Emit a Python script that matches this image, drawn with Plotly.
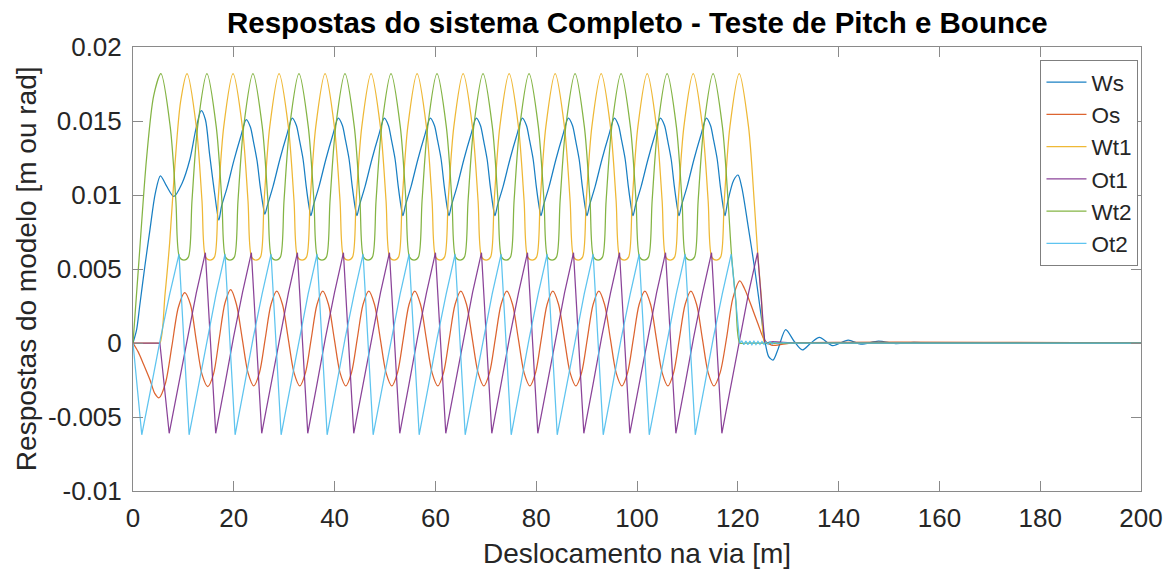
import plotly.graph_objects as go

# ---- data: displacement along the track [m] and model responses [m or rad] ----
ws_x = [0, 0.72, 1.33, 2.36, 3.38, 4.41, 5.44, 6.67, 8.10, 9.74, 11.28, 12.51, 13.54, 14.36, 15.18, 16.20, 17.03,
        17.54, 18.67, 20.00, 21.34, 22.47, 23.29, 23.90, 24.62, 25.23, 25.85, 26.16,
        26.67, 27.80, 29.13, 30.47, 31.60, 32.42, 33.03, 33.75, 34.36, 34.98, 35.29,
        35.80, 36.93, 38.26, 39.60, 40.73, 41.55, 42.16, 42.88, 43.49, 44.11, 44.42,
        44.93, 46.06, 47.39, 48.73, 49.86, 50.68, 51.29, 52.01, 52.62, 53.24, 53.55,
        54.06, 55.19, 56.52, 57.86, 58.99, 59.81, 60.42, 61.14, 61.75, 62.37, 62.68,
        63.19, 64.32, 65.65, 66.99, 68.12, 68.94, 69.55, 70.27, 70.88, 71.50, 71.81,
        72.32, 73.45, 74.78, 76.12, 77.25, 78.07, 78.68, 79.40, 80.01, 80.63, 80.94,
        81.45, 82.58, 83.91, 85.25, 86.38, 87.20, 87.81, 88.53, 89.14, 89.76, 90.07,
        90.58, 91.71, 93.04, 94.38, 95.51, 96.33, 96.94, 97.66, 98.27, 98.89, 99.20,
        99.71, 100.84, 102.17, 103.51, 104.64, 105.46, 106.07, 106.79, 107.40, 108.02, 108.33,
        108.84, 109.97, 111.30, 112.64, 113.77, 114.59, 115.20, 115.92, 116.53, 117.15, 117.46,
        117.97, 119.18, 120.06, 120.80, 122.00, 123.40, 124.40, 125.30, 126.10, 127.00, 128.00, 129.50,
        131.20, 132.80, 134.50, 136.20, 138.80, 141.90, 144.40, 147.90, 151.30, 154.90, 158.00, 200]
ws_y = [0, 0.0009, 0.0025, 0.0052, 0.0077, 0.0101, 0.0113, 0.0106, 0.0099, 0.0108, 0.0124, 0.0145, 0.0157, 0.0151, 0.0128, 0.0101, 0.0083,
        0.0092, 0.0105, 0.0123, 0.0139, 0.0151, 0.0146, 0.0136, 0.0123, 0.0106, 0.0092, 0.0087,
        0.0093, 0.0106, 0.0124, 0.0140, 0.0152, 0.0147, 0.0137, 0.0124, 0.0106, 0.0091, 0.0086,
        0.0093, 0.0106, 0.0124, 0.0140, 0.0152, 0.0147, 0.0137, 0.0124, 0.0106, 0.0091, 0.0086,
        0.0093, 0.0106, 0.0124, 0.0140, 0.0152, 0.0147, 0.0137, 0.0124, 0.0106, 0.0091, 0.0086,
        0.0093, 0.0106, 0.0124, 0.0140, 0.0152, 0.0147, 0.0137, 0.0124, 0.0106, 0.0091, 0.0086,
        0.0093, 0.0106, 0.0124, 0.0140, 0.0152, 0.0147, 0.0137, 0.0124, 0.0106, 0.0091, 0.0086,
        0.0093, 0.0106, 0.0124, 0.0140, 0.0152, 0.0147, 0.0137, 0.0124, 0.0106, 0.0091, 0.0086,
        0.0093, 0.0106, 0.0124, 0.0140, 0.0152, 0.0147, 0.0137, 0.0124, 0.0106, 0.0091, 0.0086,
        0.0093, 0.0106, 0.0124, 0.0140, 0.0152, 0.0147, 0.0137, 0.0124, 0.0106, 0.0091, 0.0086,
        0.0093, 0.0106, 0.0124, 0.0140, 0.0152, 0.0147, 0.0137, 0.0124, 0.0106, 0.0091, 0.0086,
        0.0093, 0.0106, 0.0124, 0.0140, 0.0152, 0.0147, 0.0137, 0.0124, 0.0106, 0.0091, 0.0086,
        0.0095, 0.0110, 0.01135, 0.0105, 0.0080, 0.0049, 0.0024, 0.0003, -0.0009, -0.00115, -0.0004, 0.0009,
        0.0001, -0.00047, 0.0000, 0.00038, -0.00018, 0.0002, -0.00008, 0.00012, -0.00004, 0.00004, 0, 0]

os_x = [0, 1.03, 2.05, 3.38, 4.31, 5.18, 6.45, 7.72, 8.99, 10.26,
        11.40, 12.54, 13.68, 14.83, 15.97, 17.11, 18.25, 19.39,
        20.53, 21.67, 22.81, 23.96, 25.10, 26.24, 27.38, 28.52,
        29.66, 30.80, 31.94, 33.09, 34.23, 35.37, 36.51, 37.65,
        38.79, 39.93, 41.07, 42.22, 43.36, 44.50, 45.64, 46.78,
        47.92, 49.06, 50.20, 51.35, 52.49, 53.63, 54.77, 55.91,
        57.05, 58.19, 59.33, 60.48, 61.62, 62.76, 63.90, 65.04,
        66.18, 67.32, 68.46, 69.61, 70.75, 71.89, 73.03, 74.17,
        75.31, 76.45, 77.59, 78.74, 79.88, 81.02, 82.16, 83.30,
        84.44, 85.58, 86.72, 87.87, 89.01, 90.15, 91.29, 92.43,
        93.57, 94.71, 95.85, 97.00, 98.14, 99.28, 100.42, 101.56,
        102.70, 103.84, 104.98, 106.13, 107.27, 108.41, 109.55, 110.69,
        111.83, 112.97, 114.11, 115.26, 116.50, 117.80, 119.00, 120.40,
        121.30, 122.25, 124.00, 125.30, 126.70, 128.70, 131.30, 200]
os_y = [0, -0.0006, -0.0014, -0.0025, -0.0034, -0.0037, -0.0027, -0.0002, 0.0024, 0.0034,
        0.0026, 0.0002, -0.0021, -0.00295, -0.0021, 0.0003, 0.0027, 0.0036,
        0.0026, 0.0003, -0.0020, -0.0029, -0.0020, 0.0003, 0.0026, 0.0035,
        0.0026, 0.0003, -0.0020, -0.0029, -0.0020, 0.0003, 0.0026, 0.0035,
        0.0026, 0.0003, -0.0020, -0.0029, -0.0020, 0.0003, 0.0026, 0.0035,
        0.0026, 0.0003, -0.0020, -0.0029, -0.0020, 0.0003, 0.0026, 0.0035,
        0.0026, 0.0003, -0.0020, -0.0029, -0.0020, 0.0003, 0.0026, 0.0035,
        0.0026, 0.0003, -0.0020, -0.0029, -0.0020, 0.0003, 0.0026, 0.0035,
        0.0026, 0.0003, -0.0020, -0.0029, -0.0020, 0.0003, 0.0026, 0.0035,
        0.0026, 0.0003, -0.0020, -0.0029, -0.0020, 0.0003, 0.0026, 0.0035,
        0.0026, 0.0003, -0.0020, -0.0029, -0.0020, 0.0003, 0.0026, 0.0035,
        0.0026, 0.0003, -0.0020, -0.0029, -0.0020, 0.0003, 0.0026, 0.0035,
        0.0026, 0.0003, -0.0020, -0.0029, -0.0020, 0.0004, 0.0030, 0.0042,
        0.0037, 0.0029, 0.0013, 0.0002, -0.00015, -0.0001, 0, 0]

wt1_x = [0, 4.60, 5.33, 6.36, 7.28, 8.31, 9.44, 10.72, 12.57, 13.69, 14.41, 15.29,
         16.16, 16.88, 18.00, 19.85, 21.70, 22.82, 23.54, 24.42,
         25.29, 26.01, 27.13, 28.98, 30.83, 31.95, 32.67, 33.55,
         34.42, 35.14, 36.26, 38.11, 39.96, 41.08, 41.80, 42.68,
         43.55, 44.27, 45.39, 47.24, 49.09, 50.21, 50.93, 51.81,
         52.68, 53.40, 54.52, 56.37, 58.22, 59.34, 60.06, 60.94,
         61.81, 62.53, 63.65, 65.50, 67.35, 68.47, 69.19, 70.07,
         70.94, 71.66, 72.78, 74.63, 76.48, 77.60, 78.32, 79.20,
         80.07, 80.79, 81.91, 83.76, 85.61, 86.73, 87.45, 88.33,
         89.20, 89.92, 91.04, 92.89, 94.74, 95.86, 96.58, 97.46,
         98.33, 99.05, 100.17, 102.02, 103.87, 104.99, 105.71, 106.59,
         107.46, 108.18, 109.30, 111.15, 113.00, 114.12, 114.84, 115.72,
         116.59, 117.31, 118.43, 120.28, 122.13, 123.25, 124.00, 124.70, 125.35, 126.40, 200]
wt1_y = [0, 0, 0, 0.0033, 0.0068, 0.0120, 0.0163, 0.0182, 0.0146, 0.0096, 0.0058, 0.0056,
         0.0058, 0.0096, 0.0146, 0.0182, 0.0146, 0.0096, 0.0058, 0.0056,
         0.0058, 0.0096, 0.0146, 0.0182, 0.0146, 0.0096, 0.0058, 0.0056,
         0.0058, 0.0096, 0.0146, 0.0182, 0.0146, 0.0096, 0.0058, 0.0056,
         0.0058, 0.0096, 0.0146, 0.0182, 0.0146, 0.0096, 0.0058, 0.0056,
         0.0058, 0.0096, 0.0146, 0.0182, 0.0146, 0.0096, 0.0058, 0.0056,
         0.0058, 0.0096, 0.0146, 0.0182, 0.0146, 0.0096, 0.0058, 0.0056,
         0.0058, 0.0096, 0.0146, 0.0182, 0.0146, 0.0096, 0.0058, 0.0056,
         0.0058, 0.0096, 0.0146, 0.0182, 0.0146, 0.0096, 0.0058, 0.0056,
         0.0058, 0.0096, 0.0146, 0.0182, 0.0146, 0.0096, 0.0058, 0.0056,
         0.0058, 0.0096, 0.0146, 0.0182, 0.0146, 0.0096, 0.0058, 0.0056,
         0.0058, 0.0096, 0.0146, 0.0182, 0.0146, 0.0096, 0.0058, 0.0056,
         0.0058, 0.0096, 0.0146, 0.0182, 0.0146, 0.0096, 0.0058, 0.0030, 0, 0, 0]

ot1_x = [0, 5.33, 7.18, 8.98, 10.77, 12.57, 14.36,
         16.41, 18.18, 19.95, 21.72, 23.49,
         25.54, 27.31, 29.08, 30.85, 32.62,
         34.67, 36.44, 38.21, 39.98, 41.75,
         43.80, 45.57, 47.34, 49.11, 50.88,
         52.93, 54.70, 56.47, 58.24, 60.01,
         62.06, 63.83, 65.60, 67.37, 69.14,
         71.19, 72.96, 74.73, 76.50, 78.27,
         80.32, 82.09, 83.86, 85.63, 87.40,
         89.45, 91.22, 92.99, 94.76, 96.53,
         98.58, 100.35, 102.12, 103.89, 105.66,
         107.71, 109.48, 111.25, 113.02, 114.79,
         116.84, 118.61, 120.38, 122.15, 123.92,
         125.35, 127.00, 129.00, 131.30, 200]
ot1_y = [0, 0, -0.0061, -0.0029, 0.0004, 0.0034, 0.0061,
         -0.0061, -0.0029, 0.0004, 0.0034, 0.0061,
         -0.0061, -0.0029, 0.0004, 0.0034, 0.0061,
         -0.0061, -0.0029, 0.0004, 0.0034, 0.0061,
         -0.0061, -0.0029, 0.0004, 0.0034, 0.0061,
         -0.0061, -0.0029, 0.0004, 0.0034, 0.0061,
         -0.0061, -0.0029, 0.0004, 0.0034, 0.0061,
         -0.0061, -0.0029, 0.0004, 0.0034, 0.0061,
         -0.0061, -0.0029, 0.0004, 0.0034, 0.0061,
         -0.0061, -0.0029, 0.0004, 0.0034, 0.0061,
         -0.0061, -0.0029, 0.0004, 0.0034, 0.0061,
         -0.0061, -0.0029, 0.0004, 0.0034, 0.0061,
         -0.0061, -0.0029, 0.0004, 0.0034, 0.0061,
         0, 0.0001, 0.00005, 0, 0]

wt2_x = [0, 1.23, 2.67, 4.10, 5.54, 7.39, 8.51, 9.23, 10.11,
         10.98, 11.70, 12.82, 14.67, 16.52, 17.64, 18.36, 19.24,
         20.11, 20.83, 21.95, 23.80, 25.65, 26.77, 27.49, 28.37,
         29.24, 29.96, 31.08, 32.93, 34.78, 35.90, 36.62, 37.50,
         38.37, 39.09, 40.21, 42.06, 43.91, 45.03, 45.75, 46.63,
         47.50, 48.22, 49.34, 51.19, 53.04, 54.16, 54.88, 55.76,
         56.63, 57.35, 58.47, 60.32, 62.17, 63.29, 64.01, 64.89,
         65.76, 66.48, 67.60, 69.45, 71.30, 72.42, 73.14, 74.02,
         74.89, 75.61, 76.73, 78.58, 80.43, 81.55, 82.27, 83.15,
         84.02, 84.74, 85.86, 87.71, 89.56, 90.68, 91.40, 92.28,
         93.15, 93.87, 94.99, 96.84, 98.69, 99.81, 100.53, 101.41,
         102.28, 103.00, 104.12, 105.97, 107.82, 108.94, 109.66, 110.54,
         111.41, 112.13, 113.25, 115.10, 116.95, 118.07, 118.79, 119.60, 120.40, 121.50, 200]
wt2_y = [0, 0.0058, 0.0124, 0.0167, 0.0182, 0.0146, 0.0096, 0.0058, 0.0056,
         0.0058, 0.0096, 0.0146, 0.0182, 0.0146, 0.0096, 0.0058, 0.0056,
         0.0058, 0.0096, 0.0146, 0.0182, 0.0146, 0.0096, 0.0058, 0.0056,
         0.0058, 0.0096, 0.0146, 0.0182, 0.0146, 0.0096, 0.0058, 0.0056,
         0.0058, 0.0096, 0.0146, 0.0182, 0.0146, 0.0096, 0.0058, 0.0056,
         0.0058, 0.0096, 0.0146, 0.0182, 0.0146, 0.0096, 0.0058, 0.0056,
         0.0058, 0.0096, 0.0146, 0.0182, 0.0146, 0.0096, 0.0058, 0.0056,
         0.0058, 0.0096, 0.0146, 0.0182, 0.0146, 0.0096, 0.0058, 0.0056,
         0.0058, 0.0096, 0.0146, 0.0182, 0.0146, 0.0096, 0.0058, 0.0056,
         0.0058, 0.0096, 0.0146, 0.0182, 0.0146, 0.0096, 0.0058, 0.0056,
         0.0058, 0.0096, 0.0146, 0.0182, 0.0146, 0.0096, 0.0058, 0.0056,
         0.0058, 0.0096, 0.0146, 0.0182, 0.0146, 0.0096, 0.0058, 0.0056,
         0.0058, 0.0096, 0.0146, 0.0182, 0.0146, 0.0096, 0.0058, 0.0029, 0, 0, 0]

ot2_x = [0, 1.74, 3.59, 5.44, 7.28, 9.13,
         11.13, 12.91, 14.69, 16.48, 18.26,
         20.26, 22.04, 23.82, 25.61, 27.39,
         29.39, 31.17, 32.95, 34.74, 36.52,
         38.52, 40.30, 42.08, 43.87, 45.65,
         47.65, 49.43, 51.21, 53.00, 54.78,
         56.78, 58.56, 60.34, 62.13, 63.91,
         65.91, 67.69, 69.47, 71.26, 73.04,
         75.04, 76.82, 78.60, 80.39, 82.17,
         84.17, 85.95, 87.73, 89.52, 91.30,
         93.30, 95.08, 96.86, 98.65, 100.43,
         102.43, 104.21, 105.99, 107.78, 109.56,
         111.56, 113.34, 115.12, 116.91, 118.69,
         120.40, 120.80, 121.20, 121.60, 122.00, 122.40, 122.80, 123.20, 123.60, 124.00,
         124.40, 124.80, 125.20, 125.60, 126.00, 126.40, 126.80, 127.20, 128.00, 129.00, 130.50, 200]
ot2_y = [0, -0.0062, -0.0030, 0.0003, 0.0033, 0.0060,
         -0.0062, -0.0030, 0.0003, 0.0033, 0.0060,
         -0.0062, -0.0030, 0.0003, 0.0033, 0.0060,
         -0.0062, -0.0030, 0.0003, 0.0033, 0.0060,
         -0.0062, -0.0030, 0.0003, 0.0033, 0.0060,
         -0.0062, -0.0030, 0.0003, 0.0033, 0.0060,
         -0.0062, -0.0030, 0.0003, 0.0033, 0.0060,
         -0.0062, -0.0030, 0.0003, 0.0033, 0.0060,
         -0.0062, -0.0030, 0.0003, 0.0033, 0.0060,
         -0.0062, -0.0030, 0.0003, 0.0033, 0.0060,
         -0.0062, -0.0030, 0.0003, 0.0033, 0.0060,
         -0.0062, -0.0030, 0.0003, 0.0033, 0.0060,
         -0.0062, -0.0030, 0.0003, 0.0033, 0.0060,
         0, 0.00014, -0.00012, 0.00014, -0.00012, 0.00013, -0.00011, 0.00012, -0.0001, 0.00011,
         -0.0001, 0.0001, -0.00009, 0.00009, -0.00008, 0.00008, -0.00007, 0.00006, -0.00004, 0.00003, 0, 0]

series = [
    ("Ws", ws_x, ws_y, "#0072BD", "spline"),
    ("Os", os_x, os_y, "#D95319", "spline"),
    ("Wt1", wt1_x, wt1_y, "#EDB120", "spline"),
    ("Ot1", ot1_x, ot1_y, "#7E2F8E", "linear"),
    ("Wt2", wt2_x, wt2_y, "#77AC30", "spline"),
    ("Ot2", ot2_x, ot2_y, "#4DBEEE", "linear"),
]

y_ticks = [0.02, 0.015, 0.01, 0.005, 0, -0.005, -0.01]
y_tick_text = ["0.02", "0.015", "0.01", "0.005", "0", "-0.005", "-0.01"]
x_ticks = [0, 20, 40, 60, 80, 100, 120, 140, 160, 180, 200]

FONT = "Liberation Sans, Arial, Helvetica, sans-serif"
AXIS_GRAY = "#8a8a8a"
TEXT = "#262626"

fig = go.Figure()
for name, xs, ys, color, shape in series:
    fig.add_trace(go.Scatter(
        x=xs, y=ys, name=name, mode="lines",
        line=dict(color=color, width=1.25, shape=shape, smoothing=0.8 if shape == "spline" else None),
        opacity=0.9,
    ))

axis_common = dict(
    showline=True, linecolor=AXIS_GRAY, linewidth=1, mirror="ticks",
    ticks="inside", ticklen=10, tickcolor=AXIS_GRAY, tickwidth=1,
    showgrid=False, zeroline=False,
    tickfont=dict(family=FONT, size=26, color=TEXT),
)

fig.update_layout(
    width=1175, height=572,
    margin=dict(l=133, r=28, t=47, b=81),
    paper_bgcolor="white", plot_bgcolor="white",
    font=dict(family=FONT, color=TEXT),
    showlegend=True,
    legend=dict(
        x=0.9975, xanchor="right", y=0.9707, yanchor="top",
        bgcolor="white", bordercolor="#7f7f7f", borderwidth=1,
        font=dict(family=FONT, size=22.5, color=TEXT),
        itemwidth=40, tracegroupgap=0,
    ),
    xaxis=dict(range=[0, 200], tickvals=x_ticks, ticklabelstandoff=4, **axis_common),
    yaxis=dict(range=[-0.01, 0.02], tickvals=y_ticks, ticktext=y_tick_text,
               ticklabelstandoff=5, **axis_common),
    annotations=[
        dict(text="<b>Respostas do sistema Completo - Teste de Pitch e Bounce</b>",
             xref="paper", yref="paper", x=0.5, y=1.0563, xanchor="center", yanchor="middle",
             showarrow=False, font=dict(family=FONT, size=29.5, color="black")),
        dict(text="Deslocamento na via [m]",
             xref="paper", yref="paper", x=0.5, y=-0.14, xanchor="center", yanchor="middle",
             showarrow=False, font=dict(family=FONT, size=28, color=TEXT)),
        dict(text="Respostas do modelo [m ou rad]", textangle=-90,
             xref="paper", yref="paper", x=-0.106, y=0.5, xanchor="center", yanchor="middle",
             showarrow=False, font=dict(family=FONT, size=28, color=TEXT)),
    ],
)

fig.write_html("out.html")
